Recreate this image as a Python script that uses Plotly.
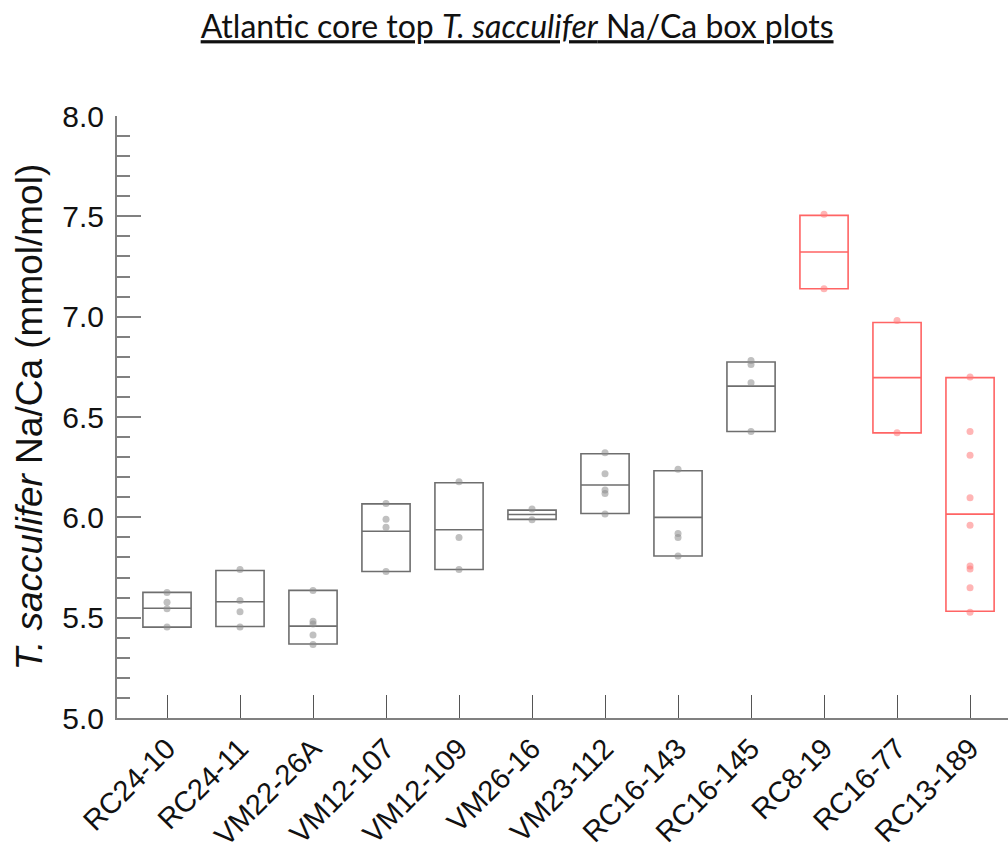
import plotly.graph_objects as go

# Core-top sites along the x axis
cores = ["RC24-10", "RC24-11", "VM22-26A", "VM12-107", "VM12-109", "VM26-16",
         "VM23-112", "RC16-143", "RC16-145", "RC8-19", "RC16-77", "RC13-189"]

# Box summary per core (mmol/mol): bottom, median line, top
box_low = [5.453, 5.456, 5.369, 5.730, 5.740, 5.990, 6.019, 5.807, 6.428, 7.139, 6.421, 5.532]
box_median = [5.547, 5.579, 5.458, 5.931, 5.938, 6.014, 6.161, 6.000, 6.654, 7.322, 6.696, 6.016]
box_high = [5.626, 5.735, 5.636, 6.067, 6.172, 6.036, 6.317, 6.232, 6.774, 7.505, 6.971, 6.696]

# Individual Na/Ca measurements per core
core_points = [
    [5.453, 5.544, 5.577, 5.626],
    [5.454, 5.529, 5.586, 5.740],
    [5.366, 5.414, 5.468, 5.482, 5.636],
    [5.730, 5.951, 5.990, 6.069],
    [5.740, 5.900, 6.177],
    [5.988, 6.042],
    [6.016, 6.119, 6.136, 6.217, 6.322],
    [5.807, 5.900, 5.920, 6.239],
    [6.428, 6.671, 6.762, 6.782],
    [7.139, 7.511],
    [6.421, 6.981],
    [5.527, 5.649, 5.742, 5.758, 5.960, 6.097, 6.309, 6.428, 6.699],
]

# Cores drawn in red
highlighted = ["RC8-19", "RC16-77", "RC13-189"]

y_ticks = [5.0, 5.5, 6.0, 6.5, 7.0, 7.5, 8.0]

GRAY_LINE = "#6e6e6e"
GRAY_PT = "rgba(140,140,140,0.55)"
RED_LINE = "#ff6464"
RED_PT = "rgba(255,120,120,0.55)"
SANS = "Liberation Sans, Arial, sans-serif"

fig = go.Figure()

for i, name in enumerate(cores):
    red = name in highlighted
    fig.add_trace(go.Box(
        x=[name],
        q1=[box_low[i]], median=[box_median[i]], q3=[box_high[i]],
        lowerfence=[box_low[i]], upperfence=[box_high[i]],
        width=0.66,
        line=dict(color=RED_LINE if red else GRAY_LINE, width=1.6),
        fillcolor="rgba(0,0,0,0)",
        boxpoints=False,
        whiskerwidth=0,
        hoverinfo="skip",
        showlegend=False,
    ))
    fig.add_trace(go.Scatter(
        x=[name] * len(core_points[i]),
        y=core_points[i],
        mode="markers",
        marker=dict(size=7, color=RED_PT if red else GRAY_PT, line=dict(width=0)),
        showlegend=False,
        hoverinfo="skip",
    ))

fig.update_layout(
    width=1008, height=853,
    margin=dict(l=117, r=0, t=116, b=135),
    paper_bgcolor="white", plot_bgcolor="white",
    font=dict(family=SANS, color="#111"),
    title=dict(
        text="<u>Atlantic core top <i>T. sacculifer</i> Na/Ca box plots</u>",
        font=dict(family="Lato, Carlito, sans-serif", size=32, color="#111"),
        xref="container", x=0.513, xanchor="center",
        yref="container", y=1 - 27 / 853, yanchor="middle",
    ),
    xaxis=dict(
        type="category",
        categoryorder="array", categoryarray=cores,
        range=[-0.685, 11.52],
        automargin=False,
        showgrid=False, zeroline=False,
        showline=True, linecolor="#808080", linewidth=2,
        ticks="inside", ticklen=23, tickwidth=1, tickcolor="#555",
        tickangle=-45,
        ticklabelstandoff=0,
        tickfont=dict(size=29, family=SANS, color="#111"),
    ),
    yaxis=dict(
        range=[5.0, 8.0],
        automargin=False,
        tickvals=y_ticks,
        ticktext=[f"{v:.1f}" for v in y_ticks],
        showgrid=False, zeroline=False,
        showline=True, linecolor="#808080", linewidth=2,
        ticks="inside", ticklen=24, tickwidth=2, tickcolor="#808080",
        minor=dict(dtick=0.1, tick0=5.0, ticks="inside", ticklen=13,
                   tickwidth=2, tickcolor="#808080", showgrid=False),
        tickfont=dict(size=30, family=SANS, color="#111"),
        ticklabelstandoff=5,
        title=dict(
            text="<i>T. sacculifer</i> Na/Ca (mmol/mol)",
            font=dict(size=37, family=SANS, color="#111"),
            standoff=8,
        ),
    ),
)

fig.write_html("out.html")
